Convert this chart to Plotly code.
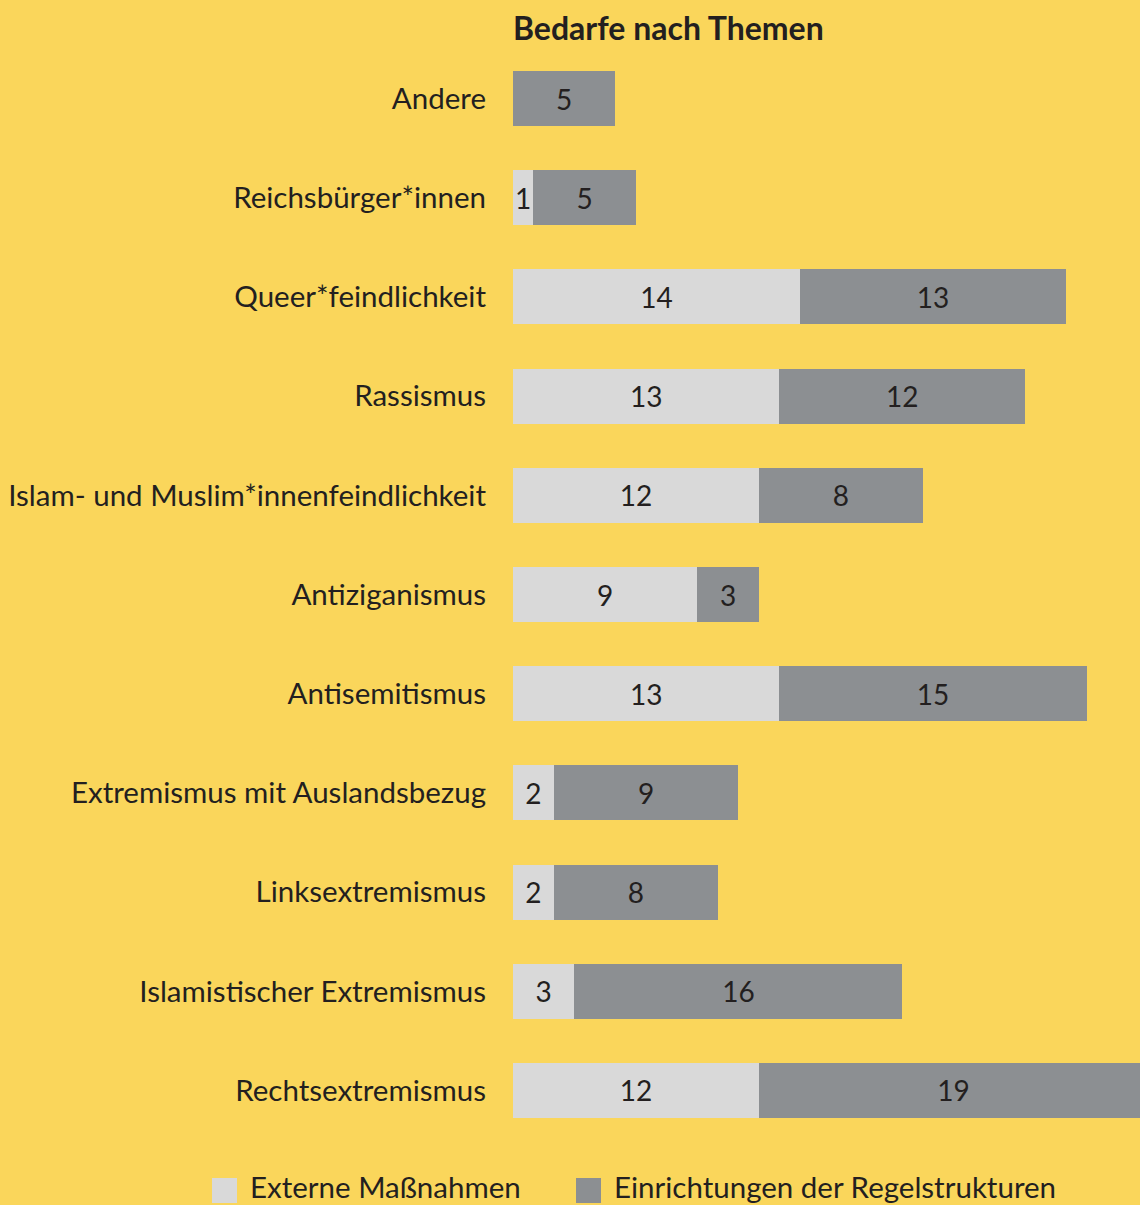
import plotly.graph_objects as go

categories = [
    "Andere",
    "Reichsbürger*innen",
    "Queer*feindlichkeit",
    "Rassismus",
    "Islam- und Muslim*innenfeindlichkeit",
    "Antiziganismus",
    "Antisemitismus",
    "Extremismus mit Auslandsbezug",
    "Linksextremismus",
    "Islamistischer Extremismus",
    "Rechtsextremismus",
]
externe = [0, 1, 14, 13, 12, 9, 13, 2, 2, 3, 12]
regel = [5, 5, 13, 12, 8, 3, 15, 9, 8, 16, 19]
series_names = ["Externe Maßnahmen", "Einrichtungen der Regelstrukturen"]
title_text = "Bedarfe nach Themen"

BG = "#fad65b"
LIGHT = "#d9d9d9"
DARK = "#8c8f92"
TXT = "#231f20"
FONT = "Lato, 'Open Sans', sans-serif"

def labels(vals):
    return [str(v) if v else "" for v in vals]

fig = go.Figure()
for name, vals, col in [(series_names[0], externe, LIGHT), (series_names[1], regel, DARK)]:
    fig.add_trace(go.Bar(
        y=categories, x=vals, orientation="h", name=name,
        marker=dict(color=col, line=dict(width=0)),
        text=labels(vals), textposition="inside", insidetextanchor="middle",
        textfont=dict(color=TXT, size=28, family=FONT),
        showlegend=False, cliponaxis=True,
    ))

fig.update_layout(
    barmode="stack",
    bargap=0.446,
    width=1140, height=1205,
    paper_bgcolor=BG, plot_bgcolor=BG,
    margin=dict(l=513, r=0, t=49, b=65),
    font=dict(family=FONT, color=TXT, size=28),
    uniformtext=dict(mode="show", minsize=28),
    xaxis=dict(range=[0, 30.6], visible=False, fixedrange=True),
    yaxis=dict(categoryorder="array", categoryarray=categories, autorange="reversed",
               showgrid=False, zeroline=False, showline=False, ticks="",
               ticklabelstandoff=26, tickfont=dict(size=29.5, color=TXT, family=FONT)),
    title=dict(text="<b>" + title_text + "</b>", x=513 / 1140, xanchor="left",
               y=1 - 29 / 1205, yanchor="middle",
               font=dict(size=32, color=TXT, family=FONT)),
)

# custom legend
legend_items = [(series_names[0], LIGHT, 212), (series_names[1], DARK, 576)]
for name, col, x0 in legend_items:
    fig.add_shape(type="rect", xref="paper", yref="paper",
                  x0=(x0 - 513) / 627, x1=(x0 + 25 - 513) / 627,
                  y0=(1140 - 1203) / 1091, y1=(1140 - 1178) / 1091,
                  fillcolor=col, line=dict(width=0), layer="above")
    fig.add_annotation(xref="paper", yref="paper",
                       x=(x0 + 36 - 513) / 627, y=(1140 - 1186) / 1091,
                       xanchor="left", yanchor="middle", showarrow=False,
                       text=name, font=dict(size=29.5, color=TXT, family=FONT))

fig.write_html("out.html", config={"displayModeBar": False},
               post_script="document.body.style.margin='0';document.body.style.overflow='hidden';")
